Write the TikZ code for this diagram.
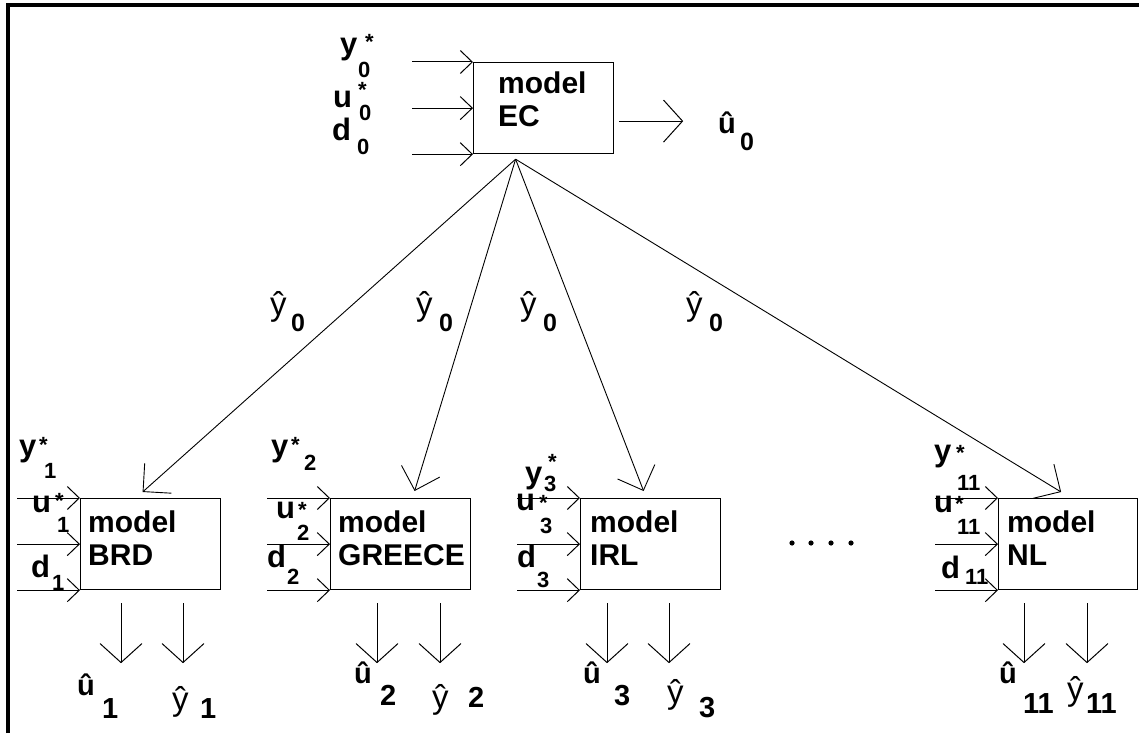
\documentclass[tikz,border=0pt]{standalone}
\usepackage{fontspec}
\setmainfont{Liberation Sans}
\usetikzlibrary{arrows.meta,calc}
\begin{document}
\begin{tikzpicture}[x=1pt,y=-1pt,
  box/.style={draw, line width=1.2pt, minimum width=140pt, minimum height=91pt, inner sep=0pt, anchor=north west},
  btxt/.style={anchor=north west, inner sep=0pt, align=left, font=\fontsize{30}{33}\selectfont\bfseries},
  lw/.style={anchor=base west, inner sep=0pt, font=\fontsize{31}{31}\selectfont\bfseries},
  sb/.style={anchor=base west, inner sep=0pt, font=\fontsize{22}{22}\selectfont\bfseries},
  sbm/.style={anchor=base west, inner sep=0pt, font=\fontsize{25}{25}\selectfont\bfseries},
  sbo/.style={anchor=base west, inner sep=0pt, font=\fontsize{29}{29}\selectfont\bfseries},
  st/.style={anchor=base west, inner sep=0pt, font=\fontsize{22}{22}\selectfont\bfseries},
  hy/.style={anchor=base west, inner sep=0pt, font=\fontsize{33}{33}\selectfont},
  hu/.style={anchor=base west, inner sep=0pt, font=\fontsize{29}{29}\selectfont\bfseries},
  inar/.style={-{Straight Barb[length=12pt,width=23pt]}, line width=1pt},
  outar/.style={-{Straight Barb[length=19pt,width=42pt]}, line width=1pt},
  diag/.style={-{Straight Barb[length=20pt,width=40pt]}, line width=0.9pt},
  frame/.style={line width=3.5pt}
]
\useasboundingbox (0,0) rectangle (1139,733);
% frame
\coordinate (fa) at (8,733);
\coordinate (fb) at (8,5);
\coordinate (fc) at (1139,5);
\draw[frame] (fa) -- (fb) -- (fc);

% top model
\node[box] (ec) at (473,62) {};
\node[btxt] (ect) at ($(ec.north west)+(25,10)$) {model\\EC};
\coordinate (eci1) at ($(ec.north west)+(-61,0)$);
\coordinate (eci2) at ($(ec.west)+(-61,0)$);
\coordinate (eci3) at ($(ec.south west)+(-61,0)$);
\draw[inar] (eci1) -- (ec.north west);
\draw[inar] (eci2) -- (ec.west);
\draw[inar] (eci3) -- (ec.south west);
\coordinate (eco1) at ($(ec.east)+(5,13)$);
\coordinate (eco2) at ($(ec.east)+(69,13)$);
\draw[outar] (eco1) -- (eco2);
\node[lw] (ly0) at (340,55) {y};
\node[st] (sy0) at (365,50) {*};
\node[sb] (by0) at (358,78) {0};
\node[lw] (lu0) at (333,108) {u};
\node[st] (su0) at (358,98) {*};
\node[sb] (bu0) at (359,121) {0};
\node[lw] (ld0) at (332,140) {d};
\node[sb] (bd0) at (357,154) {0};
\node[hu] (lhu0) at (718,133) {û};
\node[sbm] (bhu0) at (740,150) {0};

% lower models
\node[box] (brd) at (80,498) {};
\node[box] (gr) at (330,498) {};
\node[box] (irl) at (580,498) {};
\node[box, minimum width=139pt] (nl) at (998,498) {};
\node[btxt] (brdt) at ($(brd.north west)+(8,13)$) {model\\BRD};
\node[btxt] (grt) at ($(gr.north west)+(8,13)$) {model\\GREECE};
\node[btxt] (irlt) at ($(irl.north west)+(10,13)$) {model\\IRL};
\node[btxt] (nlt) at ($(nl.north west)+(9,13)$) {model\\NL};

\foreach \b in {brd,gr,irl,nl}{
  \coordinate (\b i1) at ($(\b.north west)+(-63,0)$);
  \coordinate (\b i2) at ($(\b.west)+(-63,0)$);
  \coordinate (\b i3) at ($(\b.south west)+(-63,0)$);
  \draw[inar] (\b i1) -- (\b.north west);
  \draw[inar] (\b i2) -- (\b.west);
  \draw[inar] (\b i3) -- (\b.south west);
}

% diagonal connectors
\coordinate (hub) at ($(ec.south)+(-28,5)$);
\coordinate (tbrd) at ($(brd.north)+(-8,-6)$);
\coordinate (tgr) at ($(gr.north)+(14,-7)$);
\coordinate (tirl) at ($(irl.north)+(-7,-7)$);
\coordinate (tnl) at ($(nl.north)+(-7,-6)$);
\draw[diag] (hub) -- (tbrd);
\draw[diag] (hub) -- (tgr);
\draw[diag] (hub) -- (tirl);
\draw[diag] (hub) -- (tnl);
\node[hy] (hy01) at (270,315) {ŷ};
\node[sbm] (hb01) at (291,331) {0};
\node[hy] (hy02) at (416,315) {ŷ};
\node[sbm] (hb02) at (439,331) {0};
\node[hy] (hy03) at (520,315) {ŷ};
\node[sbm] (hb03) at (543,331) {0};
\node[hy] (hy04) at (686,315) {ŷ};
\node[sbm] (hb04) at (709,331) {0};

% output arrows
\foreach \b/\p/\q in {brd/41/103, gr/47/110, irl/27/89, nl/26/89}{
  \coordinate (\b a1) at ($(\b.south west)+(\p,13)$);
  \coordinate (\b a2) at ($(\b.south west)+(\p,73)$);
  \coordinate (\b c1) at ($(\b.south west)+(\q,13)$);
  \coordinate (\b c2) at ($(\b.south west)+(\q,73)$);
  \draw[outar] (\b a1) -- (\b a2);
  \draw[outar] (\b c1) -- (\b c2);
}

% BRD labels
\node[lw] (ly1) at (19,456) {y};
\node[st] (sy1) at (39,452) {*};
\node[sb] (by1) at (44,478) {1};
\node[lw] (lu1) at (32,512) {u};
\node[st] (su1) at (55,508) {*};
\node[sb] (bu1) at (57,532) {1};
\node[lw] (ld1) at (31,577) {d};
\node[sb] (bd1) at (52,590) {1};
\node[hu] (ou1) at (77,695) {û};
\node[sbo] (ob1) at (102,718) {1};
\node[hy] (oy1) at (172,710) {ŷ};
\node[sbo] (oc1) at (200,718) {1};

% GREECE labels
\node[lw] (ly2) at (271,456) {y};
\node[st] (sy2) at (291,452) {*};
\node[sb] (by2) at (304,470) {2};
\node[lw] (lu2) at (276,518) {u};
\node[st] (su2) at (298,517) {*};
\node[sb] (bu2) at (297,540) {2};
\node[lw] (ld2) at (267,567) {d};
\node[sb] (bd2) at (287,584) {2};
\node[hu] (ou2) at (354,683) {û};
\node[sbo] (ob2) at (380,705) {2};
\node[hy] (oy2) at (432,708) {ŷ};
\node[sbo] (oc2) at (468,707) {2};

% IRL labels
\node[lw] (ly3) at (525,483) {y};
\node[st] (sy3) at (548,469) {*};
\node[sb] (by3) at (544,491) {3};
\node[lw] (lu3) at (516,510) {u};
\node[st] (su3) at (539,510) {*};
\node[sb] (bu3) at (540,533) {3};
\node[lw] (ld3) at (517,567) {d};
\node[sb] (bd3) at (537,587) {3};
\node[hu] (ou3) at (583,683) {û};
\node[sbo] (ob3) at (614,705) {3};
\node[hy] (oy3) at (667,703) {ŷ};
\node[sbo] (oc3) at (699,717) {3};

% NL labels
\node[lw] (ly4) at (934,461) {y};
\node[st] (sy4) at (956,460) {*};
\node[sb] (by4) at (957,490) {11};
\node[lw] (lu4) at (934,512) {u};
\node[st] (su4) at (955,511) {*};
\node[sb] (bu4) at (957,534) {11};
\node[lw] (ld4) at (941,578) {d};
\node[sb] (bd4) at (965,584) {11};
\node[hu] (ou4) at (999,683) {û};
\node[sbo] (ob4) at (1023,713) {11};
\node[hy] (oy4) at (1067,700) {ŷ};
\node[sbo] (oc4) at (1086,713) {11};

% ellipsis dots
\foreach \x in {792,811,831,851}{
  \fill (\x,543) circle (2.6pt);
}
\end{tikzpicture}
\end{document}
